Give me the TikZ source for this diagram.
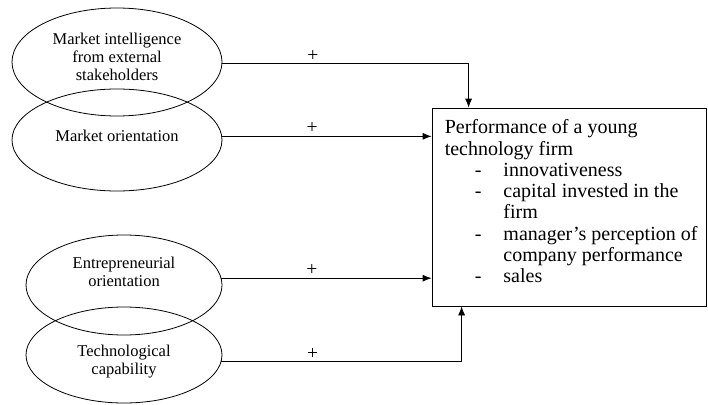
\documentclass[tikz,border=0pt]{standalone}
\usepackage{fontspec}
\setmainfont{Liberation Serif}
\usetikzlibrary{shapes.geometric,positioning,arrows.meta}
\tikzset{
construct/.style={ellipse, draw, line width=0.8pt, inner sep=0pt}, % the ovals on the left
ctext/.style={align=center, font=\fontsize{16.5}{18}\selectfont}, % text inside the ovals
outcome/.style={rectangle, draw, line width=0.8pt, minimum width=274pt, minimum height=198pt},
link/.style={-{Latex[length=9pt,width=7pt]}, line width=0.8pt},
plus/.style={above=0pt, inner sep=2pt, font=\fontsize{19.5}{20}\selectfont},
}
\begin{document}
\begin{tikzpicture}[x=1pt,y=-1pt,on grid]
\useasboundingbox (0,0) rectangle (708,404);
   \node[construct, minimum width=210pt, minimum height=108pt,
      label={[ctext,yshift=5pt]center:Market intelligence\\from external\\stakeholders}] (intel) at (117,62) {};
   \node[construct, minimum width=210pt, minimum height=102pt,
      label={[ctext,yshift=4pt]center:Market orientation}] (mo) [below=78pt of intel] {};
   \node[construct, minimum width=196pt, minimum height=100pt,
      label={[ctext,yshift=13pt]center:Entrepreneurial\\orientation}] (eo) at (124,285) {};
   \node[construct, minimum width=196pt, minimum height=96pt,
      label={[ctext,yshift=-7pt]center:Technological\\capability}] (tc) [below=70pt of eo] {};
   \node[outcome] (perf) at (569,207) {};
   \node[anchor=north west, inner sep=0pt, font=\fontsize{20}{21.3}\selectfont] (perftext)
      at ([xshift=13pt,yshift=-11pt]perf.north west) {%
      \begin{tabular}{@{\hspace{30pt}}l@{\hspace{22pt}}l@{}}
      \multicolumn{2}{@{}l@{}}{Performance of a young}\\
      \multicolumn{2}{@{}l@{}}{technology firm}\\
      - & innovativeness\\
      - & capital invested in the\\
        & firm\\
      - & manager's perception of\\
        & company performance\\
      - & sales
      \end{tabular}};
   \coordinate (topin) at ([xshift=37pt]perf.north west);
   \coordinate (botin) at ([xshift=30pt]perf.south west);
    \draw[link] (intel.-1.6) -| node[plus, pos=0.184] {+} (topin);
    \draw[link] (mo.2.2) -- node[plus, pos=0.43] {+} (mo.2.2 -| perf.west);
    \draw[link] (eo.4.1) -- node[plus, pos=0.43] {+} (eo.4.1 -| perf.west);
    \draw[link] (tc.-4.7) -| node[plus, pos=0.19] {+} (botin);
\end{tikzpicture}
\end{document}
